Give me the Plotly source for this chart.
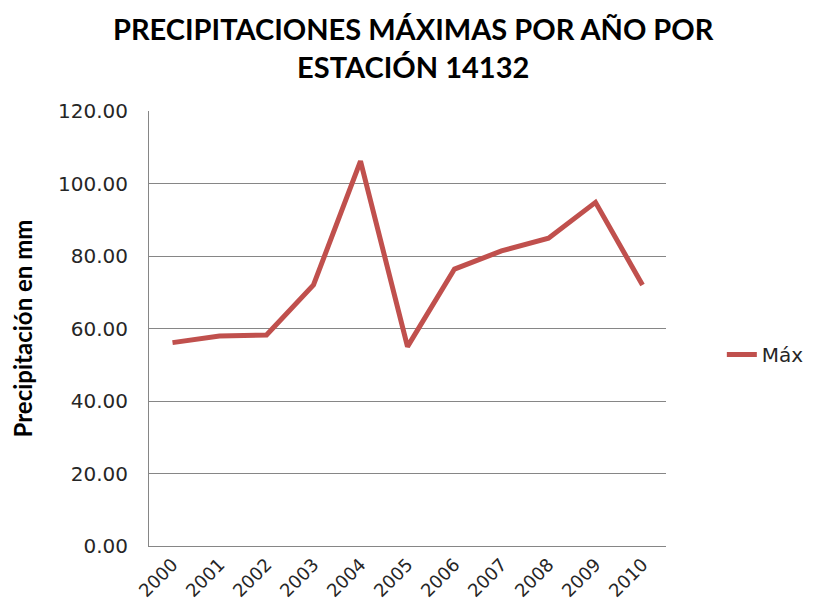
import plotly.graph_objects as go

years = ["2000", "2001", "2002", "2003", "2004", "2005", "2006", "2007", "2008", "2009", "2010"]
max_precip = [56.1, 57.9, 58.2, 72.0, 106.2, 55.0, 76.4, 81.4, 84.9, 94.8, 72.0]
y_ticks = [0, 20, 40, 60, 80, 100, 120]

TITLE_FONT = "Lato"
TICK_FONT = "DejaVu Sans"

fig = go.Figure()
fig.add_trace(go.Scatter(x=years, y=max_precip, mode="lines", name="Máx",
                         line=dict(color="#C0504D", width=5)))

# page body keeps an 8px margin, so the figure is sized 8px smaller
fig.update_layout(
    width=809, height=605,
    margin=dict(l=141, r=151, t=103, b=67, autoexpand=False),
    paper_bgcolor="white", plot_bgcolor="white",
    font=dict(family=TICK_FONT, color="#262626"),
    showlegend=True,
    legend=dict(x=1.108, xanchor="left", y=0.44, yanchor="middle",
                bgcolor="rgba(0,0,0,0)",
                font=dict(family=TICK_FONT, size=20, color="#262626")),
)
# title as an annotation so both lines sit where the reference has them
fig.add_annotation(text="<b>PRECIPITACIONES MÁXIMAS POR AÑO POR<br>ESTACIÓN 14132</b>",
                   xref="paper", yref="paper", x=0.511, y=1.147,
                   xanchor="center", yanchor="middle", showarrow=False,
                   font=dict(family=TITLE_FONT, size=29, color="#000000"))
fig.update_xaxes(type="category", range=[-0.5, 10.5], showgrid=False, automargin=False,
                 showline=True, linecolor="#868686", linewidth=1, ticks="",
                 tickangle=-45, tickfont=dict(family=TICK_FONT, size=18, color="#262626"))
fig.update_yaxes(range=[0, 120], tickvals=y_ticks, tickformat=".2f", automargin=False,
                 showgrid=True, gridcolor="#868686", gridwidth=1,
                 showline=True, linecolor="#868686", linewidth=1, ticks="",
                 zeroline=False, ticklabelstandoff=16,
                 tickfont=dict(family=TICK_FONT, size=20, color="#262626"),
                 title=dict(text="<b>Precipitación en mm</b>", standoff=22,
                            font=dict(family=TITLE_FONT, size=24, color="#000000")))
fig.write_html("out.html")
